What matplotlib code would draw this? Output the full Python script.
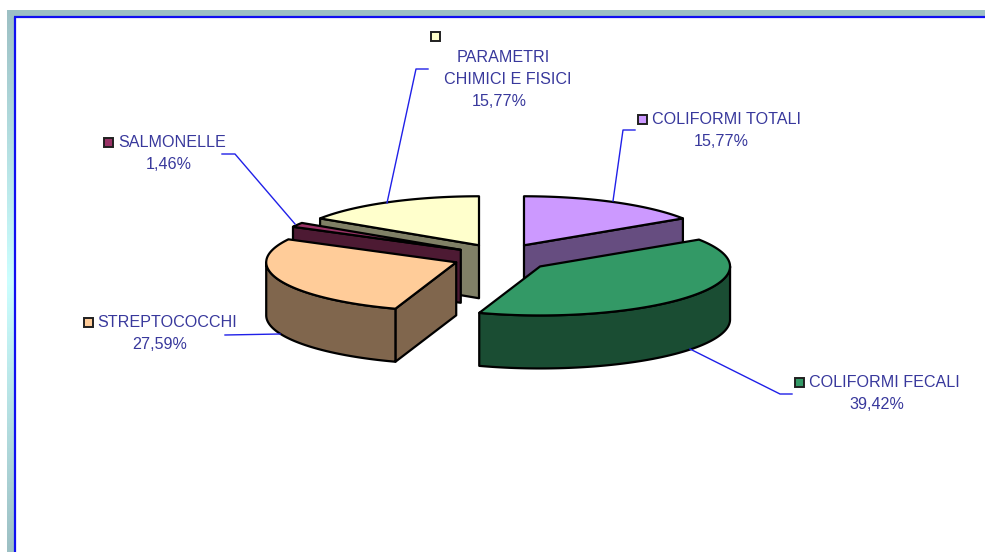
import numpy as np
import matplotlib
matplotlib.use("Agg")
import matplotlib.pyplot as plt
from matplotlib.colors import LinearSegmentedColormap
from matplotlib.patches import Polygon, Rectangle

plt.rcParams["font.family"] = ["Liberation Sans", "DejaVu Sans"]

# ----------------------------
# Data (clockwise from 12 o'clock)
# ----------------------------

names = ["COLIFORMI TOTALI", "COLIFORMI FECALI", "STREPTOCOCCHI", "SALMONELLE", "PARAMETRI CHIMICI E FISICI"]
values = [15.77, 39.42, 27.59, 1.46, 15.77]
value_labels = ["15,77%", "39,42%", "27,59%", "1,46%", "15,77%"]

top_colors = ["#CC99FF", "#339966", "#FFCC99", "#993366", "#FFFFCC"]
side_colors = ["#664D80", "#1A4D33", "#80664D", "#4D1A33", "#808066"]

# ----------------------------
# Pie geometry (pixels)
# ----------------------------

cx, cy = 501.5, 256
rx, ry = 190, 49
depth = 53
explode = 0.249
edge = dict(edgecolor="black", linewidth=1.6, joinstyle="round")
text_color = "#38389C"
leader_color = "#2020E8"


def arc(ax0, ay0, a0, a1):
    t = np.radians(np.linspace(a0, a1, max(int(abs(a1 - a0)) * 2, 2)))
    return np.column_stack([ax0 + rx * np.sin(t), ay0 - ry * np.cos(t)])


def draw_slice(ax, a0, a1, top, side):
    mid = np.radians((a0 + a1) / 2)
    # slices at the front come further out, the original has some perspective
    front = np.cos(mid) < 0
    ox = cx + explode * (1.03 if front else 1) * rx * np.sin(mid)
    oy = cy - explode * (1.4 if front else 1) * ry * np.cos(mid)
    down = np.array([0, depth])
    apex = np.array([ox, oy])

    # cut faces, only the ones turned to the viewer
    for a, visible in ((a0, np.sin(np.radians(a0)) < 0), (a1, np.sin(np.radians(a1)) > 0)):
        if visible:
            p = arc(ox, oy, a, a)[0]
            ax.add_patch(Polygon([apex, p, p + down, apex + down], facecolor=side, **edge))

    # outer wall, front half of the ellipse
    w0, w1 = max(a0, 90), min(a1, 270)
    if w1 > w0:
        rim = arc(ox, oy, w0, w1)
        ax.add_patch(Polygon(np.vstack([rim, rim[::-1] + down]), facecolor=side, **edge))

    ax.add_patch(Polygon(np.vstack([apex, arc(ox, oy, a0, a1)]), facecolor=top, **edge))


fig = plt.figure(figsize=(9.85, 5.52), dpi=100)
ax = fig.add_axes([0, 0, 1, 1])
ax.set_xlim(0, 985)
ax.set_ylim(552, 0)
ax.axis("off")

# ----------------------------
# Slide frame
# ----------------------------

band = LinearSegmentedColormap.from_list("band", ["#9DC0C4", "#CCFFFF", "#9DC0C4"])
grad = np.linspace(0, 1, 256).reshape(-1, 1)
ax.imshow(grad, cmap=band, extent=[7, 14, 552, 10], aspect="auto", zorder=1)
ax.add_patch(Rectangle((7, 10), 978, 6, facecolor="#9DC0C4", edgecolor="none", zorder=1))
ax.plot([15, 15], [552, 17], color="#1010F0", lw=1.6, zorder=2, solid_capstyle="butt")
ax.plot([14, 985], [17, 17], color="#1010F0", lw=1.6, zorder=2, solid_capstyle="butt")
ax.set_xlim(0, 985)
ax.set_ylim(552, 0)

# ----------------------------
# Leader lines
# ----------------------------

leaders = [
    ([613, 623, 635], [201, 130, 130]),
    ([690, 780, 792], [349, 394, 394]),
    ([280, 225], [334, 335]),
    ([295, 235, 222], [224, 154, 154]),
    ([387, 416, 428], [203, 69, 69]),
]
for xs, ys in leaders:
    ax.plot(xs, ys, color=leader_color, lw=1.0, zorder=3)

# ----------------------------
# Slices, back ones first
# ----------------------------

bounds = np.concatenate([[0], np.cumsum(values)]) / sum(values) * 360
for i in [4, 0, 3, 2, 1]:
    draw_slice(ax, bounds[i], bounds[i + 1], top_colors[i], side_colors[i])

# ----------------------------
# Labels
# ----------------------------

fs = 11.6
keys = [(642, 119), (799, 382.5), (88, 322), (108, 142), (435, 36)]
for (kx, ky), color in zip(keys, top_colors):
    ax.add_patch(Rectangle((kx - 4.5, ky - 4.5), 9, 9, facecolor=color, edgecolor="#202020", linewidth=1.4, zorder=5))

ax.text(652.5, 124, names[0], color=text_color, fontsize=fs, va="baseline")
ax.text(721, 146, value_labels[0], color=text_color, fontsize=fs, va="baseline", ha="center")
ax.text(809, 387, names[1], color=text_color, fontsize=fs, va="baseline")
ax.text(877, 409, value_labels[1], color=text_color, fontsize=fs, va="baseline", ha="center")
ax.text(97.5, 327, names[2], color=text_color, fontsize=fs, va="baseline")
ax.text(160, 349, value_labels[2], color=text_color, fontsize=fs, va="baseline", ha="center")
ax.text(118, 147, names[3], color=text_color, fontsize=fs, va="baseline")
ax.text(169, 169, value_labels[3], color=text_color, fontsize=fs, va="baseline", ha="center")
ax.text(503.5, 62, "PARAMETRI", color=text_color, fontsize=fs, va="baseline", ha="center")
ax.text(508, 84, "CHIMICI E FISICI", color=text_color, fontsize=fs, va="baseline", ha="center")
ax.text(499, 106, value_labels[4], color=text_color, fontsize=fs, va="baseline", ha="center")

fig.savefig("out.png", dpi=100)
